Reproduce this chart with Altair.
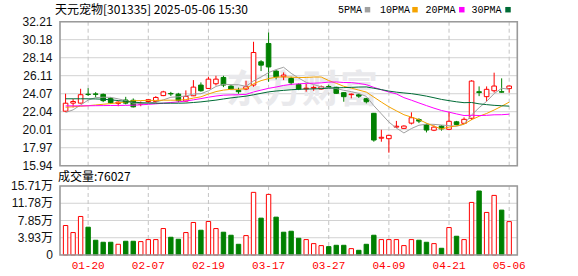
import altair as alt
import pandas as pd

# ---------------- data ----------------
dates = ["01-15", "01-16", "01-17", "01-20", "01-21", "01-22", "01-23", "01-24", "01-27",
         "02-05", "02-06", "02-07", "02-10", "02-11", "02-12", "02-13", "02-14", "02-17", "02-18", "02-19",
         "02-20", "02-21", "02-24", "02-25", "02-26", "02-27", "02-28",
         "03-17", "03-18", "03-19", "03-20", "03-21", "03-24", "03-25", "03-26", "03-27", "03-28", "03-31",
         "04-01", "04-02", "04-03", "04-07", "04-08", "04-09", "04-10", "04-11", "04-14", "04-15", "04-16",
         "04-17", "04-18", "04-21", "04-22", "04-23", "04-24", "04-25", "04-28", "04-29", "04-30", "05-06"]

open_ = [22.10, 23.01, 23.01, 24.02, 24.05, 24.00, 23.54, 22.98, 23.36, 23.33,
         22.90, 23.19, 23.19, 23.86, 24.10, 24.03, 23.24, 23.84, 25.05, 24.67,
         25.20, 25.91, 24.93, 24.45, 24.60, 25.05, 27.68, 29.75, 26.63, 25.99,
         25.80, 25.12, 24.63, 24.70, 24.60, 24.88, 24.80, 24.19, 23.97, 23.95,
         23.51, 21.86, 19.05, 18.99, 20.30, 20.16, 20.75, 21.15, 20.60, 19.95,
         20.42, 20.05, 20.90, 20.73, 21.30, 24.30, 23.74, 24.41, 24.30, 24.65]
high = [24.07, 23.47, 24.63, 24.70, 24.25, 24.10, 23.68, 23.22, 23.72, 23.54,
        23.20, 23.47, 23.80, 24.40, 24.28, 24.17, 24.45, 25.61, 25.35, 25.99,
        26.10, 26.10, 25.05, 24.75, 25.54, 29.94, 27.87, 30.99, 26.74, 26.48,
        25.99, 25.24, 25.17, 25.00, 25.00, 25.10, 24.86, 24.25, 24.10, 24.10,
        23.60, 21.90, 20.00, 19.40, 21.00, 20.50, 21.97, 21.30, 20.70, 20.50,
        20.50, 22.04, 21.00, 21.40, 25.60, 24.90, 24.90, 26.45, 25.81, 25.00]
low = [22.05, 22.52, 22.98, 23.82, 23.65, 23.12, 22.95, 22.66, 22.87, 22.52,
       22.66, 23.05, 23.05, 23.80, 23.82, 23.10, 23.17, 23.80, 24.30, 24.60,
       25.00, 24.82, 24.48, 24.07, 24.48, 24.86, 26.63, 25.42, 25.69, 25.61,
       25.05, 24.48, 24.30, 24.40, 24.55, 24.75, 24.05, 23.17, 23.55, 23.60,
       22.98, 18.65, 18.65, 17.41, 20.20, 20.10, 20.60, 20.75, 19.70, 19.85,
       19.90, 20.00, 20.50, 20.70, 21.10, 23.80, 23.20, 24.20, 24.20, 24.20]
close = [23.00, 23.19, 23.96, 23.98, 24.00, 23.29, 23.05, 23.12, 23.01, 22.59,
         22.96, 23.40, 23.65, 24.28, 24.05, 23.29, 23.77, 24.82, 24.41, 25.72,
         25.72, 25.05, 24.60, 24.30, 24.86, 28.73, 27.30, 27.10, 25.99, 26.18,
         25.31, 24.60, 24.70, 24.78, 24.86, 24.82, 24.12, 23.74, 24.03, 23.80,
         23.17, 18.84, 19.15, 19.37, 20.40, 20.42, 21.36, 20.98, 19.97, 20.30,
         20.10, 20.96, 20.60, 21.18, 25.50, 24.20, 24.57, 24.94, 24.25, 24.94]

ma5 = [21.95, 22.25, 22.80, 23.35, 23.63, 23.68, 23.66, 23.49, 23.30, 23.01,
       22.95, 23.02, 23.12, 23.38, 23.67, 23.73, 23.81, 24.04, 24.07, 24.40,
       24.89, 25.14, 25.10, 25.08, 24.91, 25.51, 25.96, 26.46, 26.80, 27.06,
       26.38, 25.84, 25.36, 25.11, 24.85, 24.75, 24.66, 24.46, 24.31, 24.10,
       23.77, 22.72, 21.80, 20.87, 20.19, 19.64, 20.14, 20.51, 20.63, 20.61,
       20.54, 20.46, 20.39, 20.63, 21.67, 22.49, 23.21, 24.08, 24.69, 24.58]
ma10 = [22.55, 22.60, 22.66, 22.72, 22.80, 22.88, 22.96, 23.05, 23.15, 23.28,
        23.30, 23.32, 23.31, 23.34, 23.34, 23.34, 23.41, 23.58, 23.72, 24.04,
        24.31, 24.48, 24.57, 24.57, 24.65, 25.20, 25.55, 25.78, 25.94, 25.98,
        25.94, 25.90, 25.91, 25.96, 25.96, 25.56, 25.25, 24.91, 24.71, 24.48,
        24.26, 23.69, 23.13, 22.59, 22.14, 21.70, 21.43, 21.15, 20.75, 20.40,
        20.09, 20.30, 20.45, 20.63, 21.14, 21.52, 21.84, 22.23, 22.66, 23.12]
ma20 = [22.70, 22.70, 22.70, 22.71, 22.72, 22.73, 22.74, 22.75, 22.76, 22.78,
        22.82, 22.87, 22.93, 23.00, 23.08, 23.15, 23.25, 23.38, 23.52, 23.68,
        23.81, 23.91, 23.94, 23.96, 24.00, 24.27, 24.48, 24.68, 24.83, 25.01,
        25.13, 25.19, 25.24, 25.26, 25.30, 25.38, 25.40, 25.34, 25.33, 25.23,
        25.10, 24.79, 24.52, 24.27, 24.05, 23.63, 23.34, 23.03, 22.73, 22.44,
        22.18, 21.99, 21.79, 21.61, 21.64, 21.61, 21.63, 21.69, 21.70, 21.76]
ma30 = [23.50, 23.50, 23.50, 23.50, 23.48, 23.45, 23.38, 23.30, 23.20, 23.12,
        23.06, 23.02, 23.00, 23.00, 23.00, 23.00, 23.02, 23.08, 23.15, 23.25,
        23.35, 23.48, 23.60, 23.70, 23.80, 23.95, 24.12, 24.28, 24.38, 24.45,
        24.52, 24.57, 24.60, 24.62, 24.65, 24.70, 24.74, 24.76, 24.79, 24.83,
        24.84, 24.69, 24.54, 24.37, 24.25, 24.16, 24.08, 23.95, 23.80, 23.62,
        23.43, 23.29, 23.16, 23.06, 23.08, 22.93, 22.84, 22.76, 22.71, 22.67]

# volume in 万 (10k)
volume = [6.71, 5.11, 8.77, 6.33, 3.36, 2.90, 2.90, 2.44, 3.13, 3.13,
          3.05, 3.51, 3.51, 6.02, 4.04, 3.58, 5.11, 7.40, 5.64, 7.63,
          6.02, 5.19, 4.50, 2.44, 4.42, 14.26, 8.39, 13.80, 8.62, 5.19,
          5.41, 3.81, 3.51, 2.59, 2.14, 1.91, 2.21, 2.21, 1.45, 1.07,
          2.44, 4.50, 3.51, 3.51, 3.51, 2.14, 3.51, 3.36, 2.90, 2.59,
          1.53, 6.25, 4.27, 3.51, 11.97, 14.57, 9.69, 13.57, 10.22, 7.60]
vol_dir = ["up", "up", "up", "down", "down", "down", "down", "up", "down", "down",
           "up", "up", "up", "up", "down", "down", "up", "up", "down", "up",
           "up", "down", "down", "down", "up", "up", "down", "up", "down", "down",
           "down", "down", "up", "up", "up", "down", "down", "down", "up", "down",
           "down", "down", "up", "up", "up", "up", "up", "down", "down", "up",
           "down", "up", "down", "up", "up", "down", "up", "up", "down", "up"]

price_ticks = [32.21, 30.18, 28.14, 26.11, 24.07, 22.04, 20.01, 17.97, 15.94]
vol_ticks = [15.71, 11.78, 7.85, 3.93, 0]
label_bars = [4, 12, 20, 28, 36, 44, 52, 60]

title_text = "天元宠物[301335] 2025-05-06 15:30"
vol_title = "成交量:76027"
watermark = "东方财富"
legend_names = ["5PMA", "10PMA", "20PMA", "30PMA"]

# ---------------- styling / layout ----------------
RED = "#ff0000"
GREEN = "#008000"
MA_COLORS = ["#a0a0a0", "#f5a300", "#ff00ff", "#006b36"]
GRID = "#d2d2d2"
FRAME = "#9a9a9a"
W, H = 467.3, 233.3
CJK = "Noto Sans CJK SC"
X_DOM = [0.2581, 61.081]

df = pd.DataFrame({
    "idx": list(range(1, len(dates) + 1)), "date": dates,
    "open": open_, "high": high, "low": low, "close": close,
    "ma5": ma5, "ma10": ma10, "ma20": ma20, "ma30": ma30,
    "vol": volume, "vdir": vol_dir,
})
df["dir"] = ["up" if c >= o else "down" for o, c in zip(open_, close)]

xs = alt.Scale(domain=X_DOM, nice=False, zero=False)
ps = alt.Scale(domain=[5.8503, 32.21], nice=False, zero=False)
vs = alt.Scale(domain=[0, 53.12], nice=False, zero=False)
dir_dom = ["up", "down"]

X = alt.X("idx:Q", scale=xs, axis=None)
base = alt.Chart(df)

# tick / frame helper tables (values taken from the label lists)
pt_df = pd.DataFrame({"v": price_ticks, "lab": [f"{v:.2f}" for v in price_ticks],
                      "xl": X_DOM[0], "xr": X_DOM[1]})
vt_df = pd.DataFrame({"v": vol_ticks, "lab": ["0" if v == 0 else f"{v:.2f}万" for v in vol_ticks],
                      "xl": X_DOM[0], "xr": X_DOM[1]})
xl_df = pd.DataFrame({"idx": label_bars, "lab": [dates[i - 1] for i in label_bars],
                      "ptop": price_ticks[0], "pbot": price_ticks[-1],
                      "vtop": vol_ticks[0], "vbot": vol_ticks[-1]})
frame_df = pd.DataFrame({"xl": [X_DOM[0]], "xr": [X_DOM[1]],
                         "ptop": [price_ticks[0]], "pbot": [price_ticks[-1]],
                         "vtop": [vol_ticks[0]], "vbot": [vol_ticks[-1]]})

# ---------- price panel ----------
pgrid = alt.Chart(pt_df).mark_rule(color=GRID, strokeWidth=1).encode(
    x=alt.X("xl:Q", scale=xs, axis=None), x2="xr:Q", y=alt.Y("v:Q", scale=ps, axis=None))
plabels = alt.Chart(pt_df).mark_text(
    font="Liberation Sans", fontSize=12, color="#111", align="right", baseline="middle"
).encode(text="lab:N", x=alt.value(-2.5), y=alt.Y("v:Q", scale=ps, axis=None))
pdash = alt.Chart(xl_df).mark_rule(strokeDash=[4, 3], color="#c4c4c4", strokeWidth=1).encode(
    x=X, y=alt.Y("ptop:Q", scale=ps, axis=None), y2="pbot:Q")

wm = alt.Chart(pd.DataFrame({"t": [watermark]})).mark_text(
    font=CJK, fontSize=38, fontWeight="bold", color="#e9e9ec", align="center", baseline="middle"
).encode(text="t:N", x=alt.value(247), y=alt.value(69))

wicks = base.mark_rule(strokeWidth=1).encode(
    x=X, y=alt.Y("low:Q", scale=ps, axis=None), y2="high:Q",
    color=alt.Color("dir:N", scale=alt.Scale(domain=dir_dom, range=[RED, GREEN]), legend=None),
)
bodies = base.mark_bar(size=4.6, strokeWidth=1).encode(
    x=X, y=alt.Y("open:Q", scale=ps, axis=None), y2="close:Q",
    fill=alt.Fill("dir:N", scale=alt.Scale(domain=dir_dom, range=["#ffffff", GREEN]), legend=None),
    stroke=alt.Stroke("dir:N", scale=alt.Scale(domain=dir_dom, range=[RED, GREEN]), legend=None),
)
ma_layers = [
    base.mark_line(strokeWidth=1, color=c, interpolate="linear").encode(
        x=X, y=alt.Y(f"{name}:Q", scale=ps, axis=None))
    for name, c in zip(["ma5", "ma10", "ma20", "ma30"], MA_COLORS)
]
pframe = alt.Chart(frame_df).mark_rect(fillOpacity=0, stroke=FRAME, strokeWidth=1.6).encode(
    x=alt.X("xl:Q", scale=xs, axis=None), x2="xr:Q",
    y=alt.Y("ptop:Q", scale=ps, axis=None), y2="pbot:Q")

title = alt.Chart(pd.DataFrame({"t": [title_text]})).mark_text(
    font=CJK, fontSize=12, color="#000", align="left", baseline="middle"
).encode(text="t:N", x=alt.value(0), y=alt.value(-12))

legend_layers = []
text_x = [283.0, 325.0, 370.5, 416.5]
sq_x = [312.5, 360.0, 406.8, 453.0]
for name, c, tx, sx in zip(legend_names, MA_COLORS, text_x, sq_x):
    d = pd.DataFrame({"t": [name]})
    legend_layers.append(alt.Chart(d).mark_text(
        font="Liberation Mono", fontSize=10, color="#000", align="left", baseline="middle"
    ).encode(text="t:N", x=alt.value(tx), y=alt.value(-12)))
    legend_layers.append(alt.Chart(d).mark_square(size=30, color=c, opacity=1).encode(
        x=alt.value(sx), y=alt.value(-12)))

price_group = alt.layer(pgrid, pdash, wm, wicks, bodies, *ma_layers, pframe, plabels, title,
                        *legend_layers)

# ---------- volume panel ----------
vgrid = alt.Chart(vt_df).mark_rule(color=GRID, strokeWidth=1).encode(
    x=alt.X("xl:Q", scale=xs, axis=None), x2="xr:Q", y=alt.Y("v:Q", scale=vs, axis=None))
vlabels = alt.Chart(vt_df).mark_text(
    font="Liberation Sans, Noto Sans CJK SC", fontSize=12, color="#111", align="right", baseline="middle"
).encode(text="lab:N", x=alt.value(-2), y=alt.Y("v:Q", scale=vs, axis=None))
vdash = alt.Chart(xl_df).mark_rule(strokeDash=[4, 3], color="#c4c4c4", strokeWidth=1).encode(
    x=X, y=alt.Y("vtop:Q", scale=vs, axis=None), y2="vbot:Q")
vbars = base.mark_bar(size=4.4, strokeWidth=1).encode(
    x=X, y=alt.Y("vol:Q", scale=vs, axis=None),
    fill=alt.Fill("vdir:N", scale=alt.Scale(domain=dir_dom, range=["#ffffff", GREEN]), legend=None),
    stroke=alt.Stroke("vdir:N", scale=alt.Scale(domain=dir_dom, range=[RED, GREEN]), legend=None),
)
vframe = alt.Chart(frame_df).mark_rect(fillOpacity=0, stroke=FRAME, strokeWidth=1.6).encode(
    x=alt.X("xl:Q", scale=xs, axis=None), x2="xr:Q",
    y=alt.Y("vtop:Q", scale=vs, axis=None), y2="vbot:Q")
xlabels = alt.Chart(xl_df).mark_text(
    font="Liberation Mono", fontSize=11, color=RED, align="center", baseline="top"
).encode(text="lab:N", x=X, y=alt.value(H + 5))
vtitle = alt.Chart(pd.DataFrame({"t": [vol_title]})).mark_text(
    font=CJK, fontSize=12, color="#000", align="left", baseline="middle"
).encode(text="t:N", x=alt.value(3), y=alt.value(155))

vol_group = alt.layer(vgrid, vdash, vbars, vframe, vlabels, xlabels, vtitle)

chart = alt.layer(price_group, vol_group).resolve_scale(y="independent").properties(
    width=W, height=H,
    autosize=alt.AutoSizeParams(type="none"),
    padding={"left": 55, "top": 21.7, "right": 55.7, "bottom": 21},
    background="#ffffff",
).configure_view(strokeOpacity=0)

chart.save("out.html", embed_options={"renderer": "svg", "actions": False})
